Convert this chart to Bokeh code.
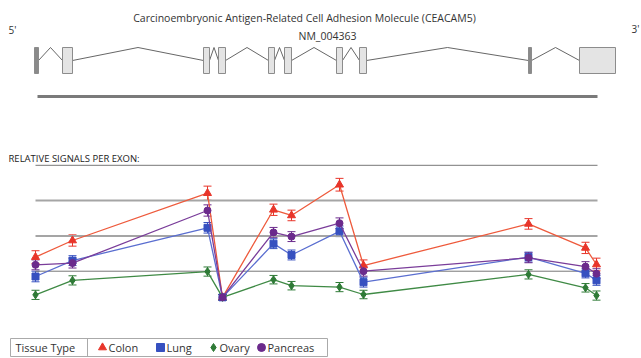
from bokeh.plotting import figure
from bokeh.models import Range1d, ColumnDataSource, Whisker, TeeHead
from bokeh.core.properties import value
from bokeh.embed import file_html
from bokeh.resources import INLINE

# ---------------- data ----------------
# gene model (positions along the transcript, drawing units)
exon_start = [34, 62, 203, 218, 268, 284, 336, 359, 528, 579]
exon_end = [38, 72, 209, 225, 274, 291, 342, 366, 531, 615]

# probe positions along the gene and relative signals per exon
probe_pos = [35, 72, 207, 222, 273, 291, 339, 363, 528, 585, 596]
colon = [1.40, 1.87, 3.21, 0.26, 2.74, 2.58, 3.45, 1.16, 2.34, 1.66, 1.19]
lung = [0.85, 1.30, 2.23, 0.26, 1.78, 1.46, 2.13, 0.69, 1.40, 0.94, 0.74]
ovary = [0.33, 0.74, 0.99, 0.26, 0.76, 0.59, 0.55, 0.34, 0.91, 0.53, 0.31]
pancreas = [1.18, 1.23, 2.72, 0.26, 2.10, 1.98, 2.36, 1.00, 1.38, 1.13, 0.93]
colon_err = [0.18, 0.16, 0.20, 0.08, 0.16, 0.15, 0.18, 0.16, 0.15, 0.16, 0.18]
lung_err = [0.15, 0.14, 0.15, 0.08, 0.14, 0.14, 0.15, 0.14, 0.14, 0.13, 0.14]
ovary_err = [0.13, 0.13, 0.13, 0.08, 0.12, 0.12, 0.13, 0.12, 0.13, 0.12, 0.13]
pancreas_err = [0.14, 0.14, 0.16, 0.08, 0.14, 0.14, 0.15, 0.14, 0.14, 0.14, 0.14]
grid_levels = [1, 2, 3, 4]

series_names = ["Colon", "Lung", "Ovary", "Pancreas"]
series_vals = [colon, lung, ovary, pancreas]
series_err = [colon_err, lung_err, ovary_err, pancreas_err]
series_marker = ["triangle", "square", "diamond", "circle"]
series_color = ["#e8352a", "#3650c0", "#2e7a36", "#6b2a8c"]
series_line = ["#ee5a3c", "#5a6ed0", "#3f8a45", "#7a3d9a"]
series_size = [8, 7, 8, 7]

title = "Carcinoembryonic Antigen-Related Cell Adhesion Molecule (CEACAM5)"
accession = "NM_004363"
section_label = "RELATIVE SIGNALS PER EXON:"
legend_title = "Tissue Type"

FONT = value("Open Sans")

W, H = 641, 358
p = figure(width=W, height=H, output_backend="svg", toolbar_location=None,
           x_range=Range1d(0, 641), y_range=Range1d(-1.473, 8.669),
           min_border=0, outline_line_color=None)
p.axis.visible = False
p.grid.visible = False
p.extra_y_ranges = {"page": Range1d(358, 0)}
p.background_fill_color = "white"
p.border_fill_color = "white"

# ---------------- gene model ----------------
nxt = exon_start[1:]
ends = exon_end[:-1]
xs, ys = [], []
for e, n in zip(ends, nxt):
    xs.append([e, (e + n) / 2, n])
    ys.append([60, 47, 60])
p.multi_line(xs, ys, line_color="#555555", line_width=0.9, y_range_name="page")

thin = [(e - s) <= 4 for s, e in zip(exon_start, exon_end)]
fills = ["#8a8a8a" if t else "#e4e4e4" for t in thin]
p.quad(left=exon_start, right=exon_end, top=[47] * len(exon_start),
       bottom=[73] * len(exon_start), fill_color=fills,
       line_color="#8c8c8c", line_width=1, y_range_name="page")

p.segment(x0=[37], x1=[597], y0=[96], y1=[96], line_color="#7a7a7a",
          line_width=3, y_range_name="page")

p.text(x=[304], y=[17], text=[title], text_font=FONT, text_font_size="10.5px",
       text_color="#333333", text_align="center", text_baseline="middle",
       y_range_name="page")
p.text(x=[327], y=[35], text=[accession], text_font=FONT, text_font_size="10.5px",
       text_color="#333333", text_align="center", text_baseline="middle",
       y_range_name="page")
p.text(x=[8], y=[29], text=["5'"], text_font=FONT, text_font_size="10px",
       text_color="#333333", text_align="left", text_baseline="middle",
       y_range_name="page")
p.text(x=[631], y=[28], text=["3'"], text_font=FONT, text_font_size="10px",
       text_color="#333333", text_align="left", text_baseline="middle",
       y_range_name="page")

# ---------------- signal chart ----------------
p.text(x=[8], y=[158], text=[section_label], text_font=FONT,
       text_font_size="9.5px", text_color="#222222", text_align="left",
       text_baseline="middle", y_range_name="page")
gw = [1, 2, 2, 1]
gc = ["#777777", "#a5a5a5", "#a5a5a5", "#777777"]
p.segment(x0=[35] * len(grid_levels), x1=[597] * len(grid_levels),
          y0=grid_levels, y1=grid_levels, line_color=gc, line_width=gw)

for name, vals, err, mk, col, lc, sz in zip(series_names, series_vals, series_err,
                                            series_marker, series_color,
                                            series_line, series_size):
    src = ColumnDataSource(dict(x=probe_pos, y=vals,
                                upper=[v + d for v, d in zip(vals, err)],
                                lower=[v - d for v, d in zip(vals, err)]))
    p.line("x", "y", source=src, line_color=lc, line_width=1.3)
    w = Whisker(base="x", upper="upper", lower="lower", source=src,
                line_color=col, line_width=1,
                upper_head=TeeHead(size=8, line_color=col, line_width=1),
                lower_head=TeeHead(size=8, line_color=col, line_width=1))
    p.add_layout(w)
    p.scatter("x", "y", source=src, marker=mk, size=sz, fill_color=col,
              line_color=col)

# ---------------- legend ----------------
p.quad(left=[10], right=[327], top=[338], bottom=[356], fill_color="white",
       line_color="#aaaaaa", line_width=1, y_range_name="page")
p.segment(x0=[87], x1=[87], y0=[338], y1=[356], line_color="#aaaaaa",
          line_width=1, y_range_name="page")
p.text(x=[15], y=[347], text=[legend_title], text_font=FONT,
       text_font_size="11px", text_color="#333333", text_baseline="middle",
       y_range_name="page")
leg_mx = [102, 160, 213, 261]
for name, mk, col, mx in zip(series_names, series_marker, series_color, leg_mx):
    p.scatter([mx], [347], marker=mk, size=8, fill_color=col, line_color=col,
              y_range_name="page")
    p.text(x=[mx + 6], y=[347], text=[name], text_font=FONT,
           text_font_size="11px", text_color="#333333",
           text_baseline="middle", y_range_name="page")

open("out.html", "w").write(file_html(p, INLINE))
